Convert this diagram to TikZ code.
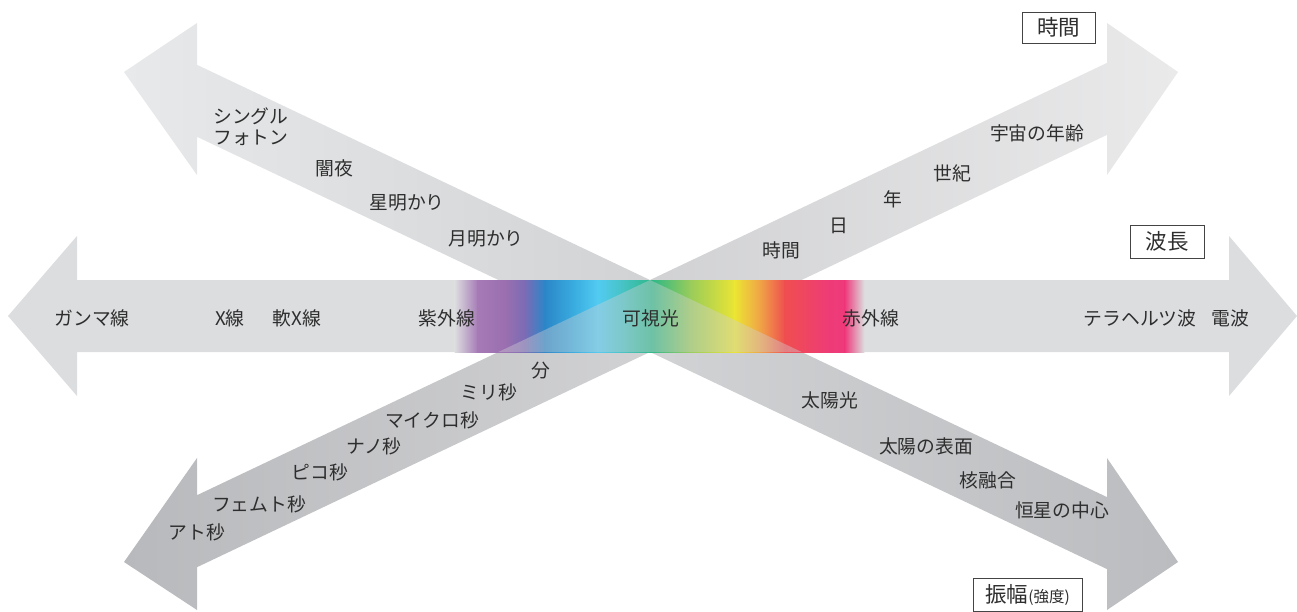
\documentclass[tikz,border=0pt]{standalone}
\usepackage{fontspec}
\setmainfont{Noto Sans CJK JP}
\definecolor{txt}{HTML}{2E2E2E}
\definecolor{boxc}{HTML}{444444}
\definecolor{bandc}{HTML}{DCDDDF}
\definecolor{ulc}{HTML}{E8E9EA}
\definecolor{lrc}{HTML}{BBBCBF}
\definecolor{llc}{HTML}{B8B9BC}
\definecolor{urc}{HTML}{EAEAEB}
\definecolor{ovc}{HTML}{D0D1D3}
\definecolor{sp1}{HTML}{A57AB5}
\definecolor{sp2}{HTML}{9B6FB0}
\definecolor{sp3}{HTML}{7A6CB5}
\definecolor{sp4}{HTML}{2B86C8}
\definecolor{sp5}{HTML}{3AAEE0}
\definecolor{sp6}{HTML}{52CBF2}
\definecolor{sp7}{HTML}{45C2C0}
\definecolor{sp8}{HTML}{2DB887}
\definecolor{sp9}{HTML}{98CC5A}
\definecolor{sp10}{HTML}{EBE533}
\definecolor{sp11}{HTML}{F0A446}
\definecolor{sp12}{HTML}{EF4E50}
\definecolor{sp13}{HTML}{EE3B78}
\definecolor{sp14}{HTML}{EE3A7A}
\begin{document}
\begin{tikzpicture}[x=1pt,y=-1pt,
  lbl/.style={text=txt, inner sep=0pt, font=\fontsize{18.8}{20.5}\selectfont},
  axisbox/.style={draw=boxc, line width=0.9pt, text=txt, inner sep=0pt,
    font=\fontsize{21.5}{22}\selectfont}]
\useasboundingbox (0,0) rectangle (1297,612);
% diagonal arrow: upper-left <-> lower-right
\shade[left color=ulc, right color=lrc]
  (124,72) -- (197,23) -- (197,64.8) -- (1107,497.1) -- (1107,458) -- (1178,562)
  -- (1107,610) -- (1107,569.1) -- (197,136.8) -- (197,175) -- cycle;
% diagonal arrow: lower-left <-> upper-right
\shade[left color=llc, right color=urc]
  (124,562) -- (197,610) -- (197,567.2) -- (1107,134.9) -- (1107,175) -- (1178,72)
  -- (1107,23) -- (1107,62.9) -- (197,495.2) -- (197,458) -- cycle;
% horizontal arrow
\fill[bandc] (8,316) -- (77,236) -- (77,280) -- (1229,280) -- (1229,236) -- (1297,316)
  -- (1229,396) -- (1229,352) -- (77,352) -- (77,396) -- cycle;
% spectrum
\foreach \xa/\ca/\xb/\cb in {455/bandc/478/sp1, 478/sp1/505/sp2, 505/sp2/525/sp3,
  525/sp3/545/sp4, 545/sp4/575/sp5, 575/sp5/598/sp6, 598/sp6/625/sp7, 625/sp7/652/sp8,
  652/sp8/690/sp9, 690/sp9/735/sp10, 735/sp10/760/sp11, 760/sp11/785/sp12,
  785/sp12/830/sp13, 830/sp13/845/sp14, 845/sp14/864/bandc}
  \shade[left color=\ca, right color=\cb] (\xa-0.3,280) rectangle (\xb+0.3,352);
% translucent overlap of the lower arrow halves
\fill[ovc, opacity=0.4] (650,280) -- (498.4,352) -- (801.6,352) -- cycle;
% axis boxes
\node[axisbox, minimum width=73pt, minimum height=31pt] (bTime) at (1058.5,27.5) {時間};
\node[axisbox, minimum width=109pt, minimum height=33pt] (bAmp) at (1027.5,594.5)
  {振幅{\fontsize{15.5}{16}\selectfont (強度)}};
\node[axisbox, minimum width=74pt, minimum height=33pt] (bWave) at (1167,241.5) {波長};
% upper-left labels
\node[lbl, anchor=west, align=left] (lSingle) at (213,126.5) {シングル\\フォトン};
\node[lbl] (lYami) at (334,168) {闇夜};
\node[lbl] (lStar) at (407,203) {星明かり};
\node[lbl] (lMoon) at (486,239) {月明かり};
% upper-right labels
\node[lbl] (lHour) at (781,250) {時間};
\node[lbl] (lDay) at (839,226) {日};
\node[lbl] (lYear) at (893,199) {年};
\node[lbl] (lCent) at (952,173) {世紀};
\node[lbl] (lUniv) at (1037,133) {宇宙の年齢};
% horizontal labels
\node[lbl] (lGamma) at (92,318) {ガンマ線};
\node[lbl] (lX) at (230,318) {X線};
\node[lbl] (lSoftX) at (297,318) {軟X線};
\node[lbl] (lUV) at (447,318) {紫外線};
\node[lbl] (lVis) at (651,318) {可視光};
\node[lbl] (lIR) at (871,318) {赤外線};
\node[lbl] (lTHz) at (1140,318) {テラヘルツ波};
\node[lbl] (lRadio) at (1230,318) {電波};
% lower-left labels
\node[lbl] (lMin) at (541,371) {分};
\node[lbl] (lMs) at (489,392) {ミリ秒};
\node[lbl] (lUs) at (432,420) {マイクロ秒};
\node[lbl] (lNs) at (374,446) {ナノ秒};
\node[lbl] (lPs) at (320,472) {ピコ秒};
\node[lbl] (lFs) at (259,504) {フェムト秒};
\node[lbl] (lAs) at (197,532) {アト秒};
% lower-right labels
\node[lbl] (lSun) at (830,400) {太陽光};
\node[lbl] (lSurf) at (926,446) {太陽の表面};
\node[lbl] (lFus) at (988,480) {核融合};
\node[lbl] (lCore) at (1062,510) {恒星の中心};
\end{tikzpicture}
\end{document}
